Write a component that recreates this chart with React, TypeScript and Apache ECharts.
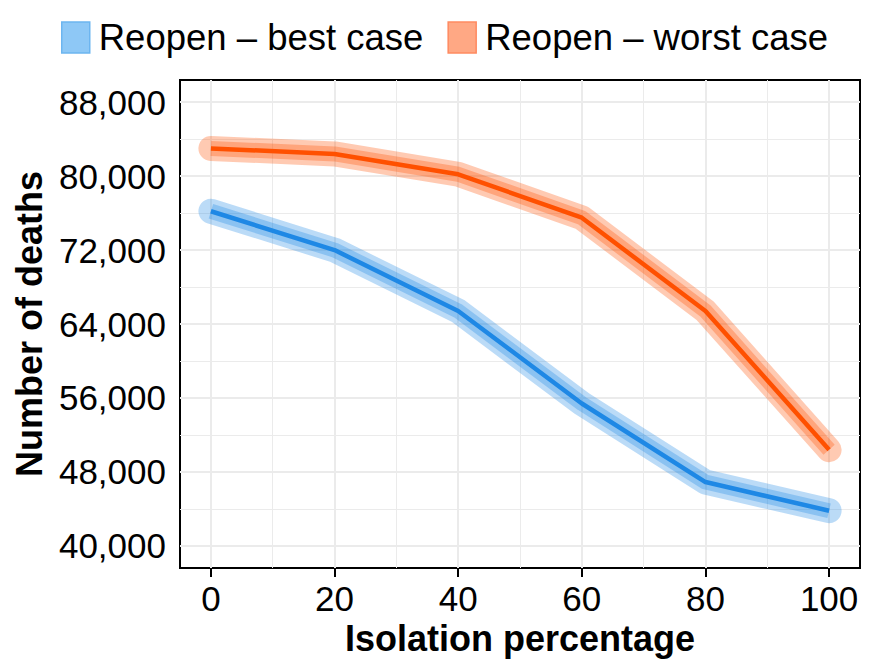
import React, { useEffect, useRef } from "react";
import * as echarts from "echarts";

const isolation = [0, 20, 40, 60, 80, 100];
const bestCase = [76200, 72000, 65400, 55400, 46900, 43800];
const worstCase = [83000, 82400, 80200, 75500, 65400, 50400];
const yTicks = [40000, 48000, 56000, 64000, 72000, 80000, 88000];
const yMinor = [44000, 52000, 60000, 68000, 76000, 84000];
const xTicks = [0, 20, 40, 60, 80, 100];
const xMinor = [10, 30, 50, 70, 90];
const bestName = "Reopen – best case";
const worstName = "Reopen – worst case";

const BLUE = "#1E88E5";
const ORANGE = "#FF5000";
const FONT = "Liberation Sans, Arial, Helvetica, sans-serif";

function pairs(ys: number[]) {
  return isolation.map((x, i) => [x, ys[i]]);
}

export default function App() {
  const ref = useRef<HTMLDivElement>(null);
  useEffect(() => {
    if (!ref.current) return;
    const chart = echarts.init(ref.current, undefined, { renderer: "svg" });

    const bands = (name: string, ys: number[], color: string) => [
      {
        name: name + " band outer",
        type: "line",
        data: pairs(ys),
        showSymbol: false,
        symbol: "none",
        silent: true,
        z: 2,
        lineStyle: { color, width: 25, opacity: 0.3, cap: "round", join: "round" },
      },
      {
        name: name + " band inner",
        type: "line",
        data: pairs(ys),
        showSymbol: false,
        symbol: "none",
        silent: true,
        z: 3,
        lineStyle: { color, width: 15, opacity: 0.3, cap: "butt", join: "round" },
      },
      {
        name,
        type: "line",
        data: pairs(ys),
        showSymbol: false,
        symbol: "none",
        z: 4,
        itemStyle: { color },
        lineStyle: { color, width: 4.5, cap: "butt", join: "round" },
      },
    ];

    const gridSeries = {
      name: "grid",
      type: "line",
      data: [],
      silent: true,
      z: 1,
      markLine: {
        silent: true,
        symbol: ["none", "none"],
        label: { show: false },
        z: 1,
        animation: false,
        data: [
          ...yMinor.map((v) => ({ yAxis: v, lineStyle: { color: "#EBEBEB", width: 1, type: "solid" } })),
          ...xMinor.map((v) => ({ xAxis: v, lineStyle: { color: "#EBEBEB", width: 1, type: "solid" } })),
          ...yTicks.map((v) => ({ yAxis: v, lineStyle: { color: "#EBEBEB", width: 2, type: "solid" } })),
          ...xTicks.map((v) => ({ xAxis: v, lineStyle: { color: "#EBEBEB", width: 2, type: "solid" } })),
        ],
      },
    };

    chart.setOption({
      animation: false,
      textStyle: { fontFamily: FONT },
      legend: {
        top: 14,
        left: 56,
        icon: "rect",
        itemWidth: 28,
        itemHeight: 31,
        itemGap: 24,
        textStyle: { fontSize: 36.5, color: "#000", fontFamily: FONT, padding: [0, 0, 0, 4] },
        data: [
          { name: bestName, itemStyle: { color: "#8EC8F6", borderColor: "#6CB5F0", borderWidth: 1.5 } },
          { name: worstName, itemStyle: { color: "#FFA884", borderColor: "#FF8A60", borderWidth: 1.5 } },
        ],
      },
      grid: {
        left: 180,
        top: 80,
        right: 12,
        bottom: 98,
        show: true,
        borderColor: "#000",
        borderWidth: 2,
        backgroundColor: "#fff",
      },
      xAxis: {
        type: "value",
        min: -5,
        max: 105,
        axisLine: { show: false },
        splitLine: { show: false },
        axisTick: { show: true, length: 9, lineStyle: { color: "#000", width: 2 }, customValues: xTicks },
        axisLabel: { fontSize: 35, color: "#000", fontFamily: FONT, margin: 13, customValues: xTicks },
        name: "Isolation percentage",
        nameLocation: "middle",
        nameGap: 50,
        nameTextStyle: { fontSize: 36, fontWeight: "bold", color: "#000", fontFamily: FONT },
      },
      yAxis: {
        type: "value",
        min: 37600,
        max: 90400,
        axisLine: { show: false },
        splitLine: { show: false },
        axisTick: { show: true, length: 9, lineStyle: { color: "#000", width: 2 }, customValues: yTicks },
        axisLabel: {
          fontSize: 35,
          color: "#000",
          fontFamily: FONT,
          margin: 14,
          customValues: yTicks,
          formatter: (v: number) => v.toLocaleString("en-US"),
        },
        name: "Number of deaths",
        nameLocation: "middle",
        nameGap: 133,
        nameTextStyle: { fontSize: 36, fontWeight: "bold", color: "#000", fontFamily: FONT },
      },
      series: [gridSeries, ...bands(bestName, bestCase, BLUE), ...bands(worstName, worstCase, ORANGE)],
    });
    return () => chart.dispose();
  }, []);
  return (
    <div
      ref={ref}
      style={{ position: "fixed", left: 0, top: 0, width: 872, height: 666, background: "#fff" }}
    />
  );
}
